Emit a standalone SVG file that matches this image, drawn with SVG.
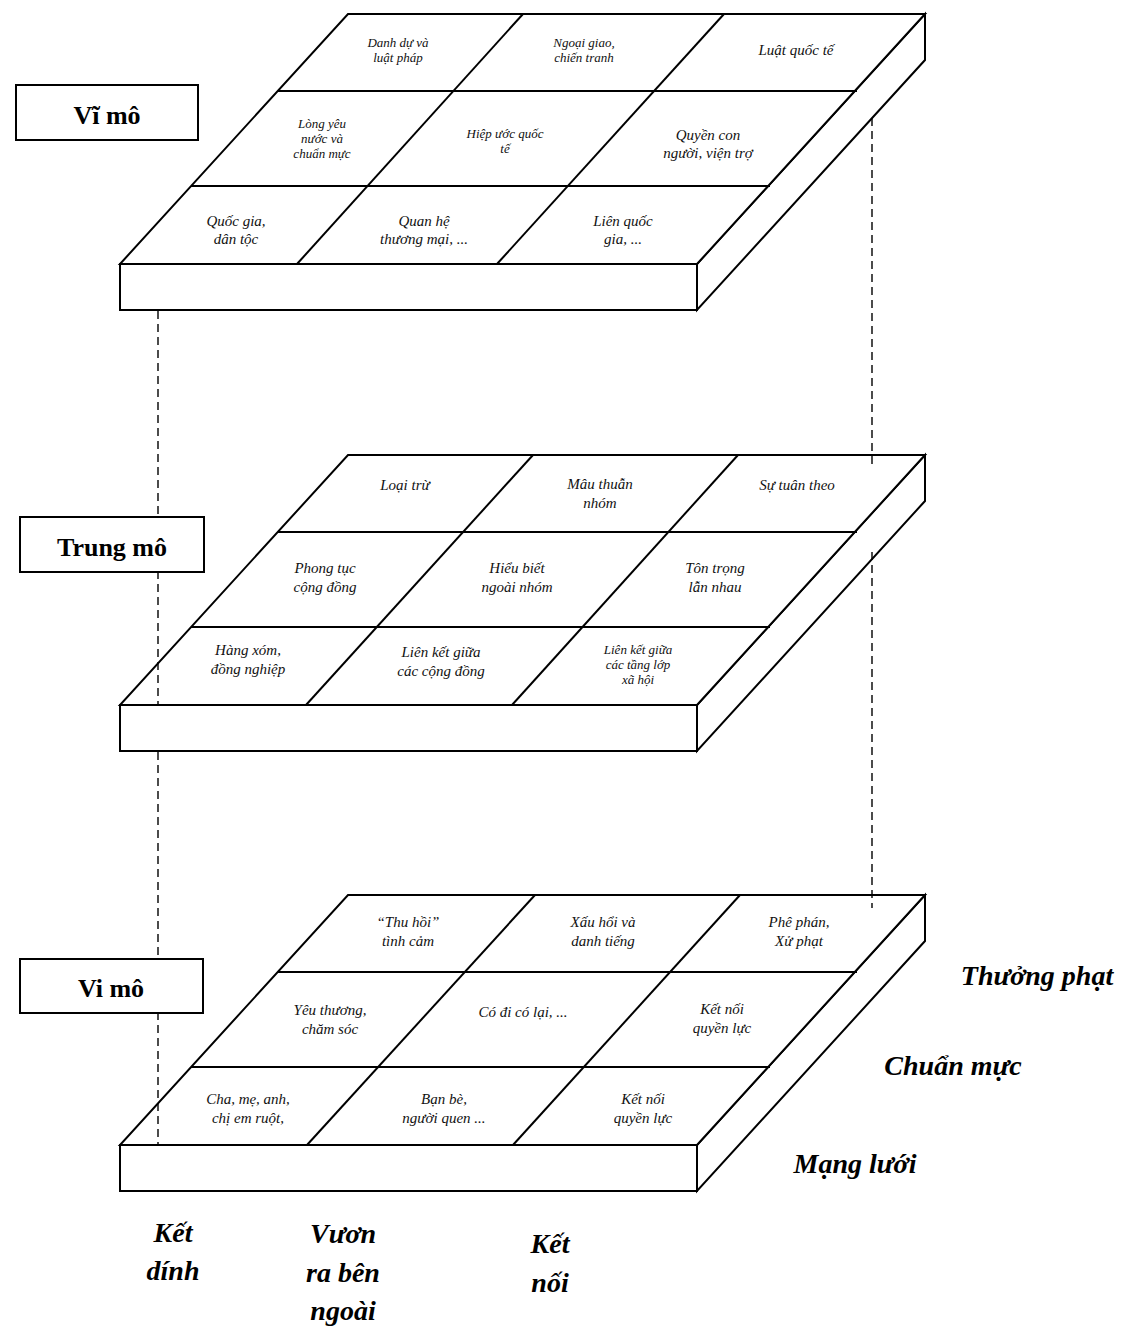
<svg xmlns="http://www.w3.org/2000/svg" width="1125" height="1332" viewBox="0 0 1125 1332">
<style>
.face{fill:#fff;stroke:#000;stroke-width:2;stroke-linejoin:miter}
.ln{fill:none;stroke:#000;stroke-width:2}
.dash{fill:none;stroke:#000;stroke-width:1.4;stroke-dasharray:8 5}
.box{fill:#fff;stroke:#000;stroke-width:2}
.lvl{font-family:"Liberation Serif",serif;font-weight:bold;font-size:26px;text-anchor:middle}
.cell{font-family:"Liberation Serif",serif;font-style:italic;font-size:15px;text-anchor:middle;fill:#111}
.sm{font-size:13px}
.axis{font-family:"Liberation Serif",serif;font-weight:bold;font-style:italic;font-size:28px;text-anchor:middle}
</style>
<rect width="1125" height="1332" fill="#fff"/>

<g id="slab-vimo-top">
<polygon class="face" points="697,264 925,14 925,60 697,310"/>
<rect class="face" x="120" y="264" width="577" height="46"/>
<polygon class="face" points="348,14 925,14 697,264 120,264"/>
<line class="ln" x1="278" y1="91" x2="857" y2="91"/>
<line class="ln" x1="191" y1="186" x2="770" y2="186"/>
<line class="ln" x1="523" y1="14" x2="297" y2="264"/>
<line class="ln" x1="724" y1="14" x2="497" y2="264"/>
<g id="c-danh-du"><text class="cell sm" x="398" y="47">Danh dự và</text><text class="cell sm" x="398" y="62">luật pháp</text></g>
<g id="c-ngoai-giao"><text class="cell sm" x="584" y="47">Ngoại giao,</text><text class="cell sm" x="584" y="62">chiến tranh</text></g>
<g id="c-luat-quoc-te"><text class="cell" x="796" y="55">Luật quốc tế</text></g>
<g id="c-long-yeu"><text class="cell sm" x="322" y="128">Lòng yêu</text><text class="cell sm" x="322" y="143">nước và</text><text class="cell sm" x="322" y="158">chuẩn mực</text></g>
<g id="c-hiep-uoc"><text class="cell sm" x="505" y="138">Hiệp ước quốc</text><text class="cell sm" x="505" y="153">tế</text></g>
<g id="c-quyen-con"><text class="cell" x="708" y="140">Quyền con</text><text class="cell" x="708" y="158">người, viện trợ</text></g>
<g id="c-quoc-gia"><text class="cell" x="236" y="226">Quốc gia,</text><text class="cell" x="236" y="244">dân tộc</text></g>
<g id="c-quan-he"><text class="cell" x="424" y="226">Quan hệ</text><text class="cell" x="424" y="244">thương mại, ...</text></g>
<g id="c-lien-quoc-gia"><text class="cell" x="623" y="226">Liên quốc</text><text class="cell" x="623" y="244">gia, ...</text></g>
</g>

<g id="slab-trung-mo">
<polygon class="face" points="697,705 925,455 925,501 697,751"/>
<rect class="face" x="120" y="705" width="577" height="46"/>
<polygon class="face" points="348,455 925,455 697,705 120,705"/>
<line class="ln" x1="278" y1="532" x2="857" y2="532"/>
<line class="ln" x1="191" y1="627" x2="770" y2="627"/>
<line class="ln" x1="533" y1="455" x2="306" y2="705"/>
<line class="ln" x1="738" y1="455" x2="512" y2="705"/>
<g id="c-loai-tru"><text class="cell" x="405" y="490">Loại trừ</text></g>
<g id="c-mau-thuan"><text class="cell" x="600" y="489">Mâu thuẫn</text><text class="cell" x="600" y="508">nhóm</text></g>
<g id="c-su-tuan-theo"><text class="cell" x="797" y="490">Sự tuân theo</text></g>
<g id="c-phong-tuc"><text class="cell" x="325" y="573">Phong tục</text><text class="cell" x="325" y="592">cộng đồng</text></g>
<g id="c-hieu-biet"><text class="cell" x="517" y="573">Hiểu biết</text><text class="cell" x="517" y="592">ngoài nhóm</text></g>
<g id="c-ton-trong"><text class="cell" x="715" y="573">Tôn trọng</text><text class="cell" x="715" y="592">lẫn nhau</text></g>
<g id="c-hang-xom"><text class="cell" x="248" y="655">Hàng xóm,</text><text class="cell" x="248" y="674">đồng nghiệp</text></g>
<g id="c-lien-ket-cong-dong"><text class="cell" x="441" y="657">Liên kết giữa</text><text class="cell" x="441" y="676">các cộng đồng</text></g>
<g id="c-lien-ket-tang-lop"><text class="cell sm" x="638" y="654">Liên kết giữa</text><text class="cell sm" x="638" y="669">các tầng lớp</text><text class="cell sm" x="638" y="684">xã hội</text></g>
</g>

<g id="slab-vi-mo">
<polygon class="face" points="697,1145 925,895 925,941 697,1191"/>
<rect class="face" x="120" y="1145" width="577" height="46"/>
<polygon class="face" points="348,895 925,895 697,1145 120,1145"/>
<line class="ln" x1="278" y1="972" x2="857" y2="972"/>
<line class="ln" x1="191" y1="1067" x2="770" y2="1067"/>
<line class="ln" x1="535" y1="895" x2="307" y2="1145"/>
<line class="ln" x1="740" y1="895" x2="513" y2="1145"/>
<g id="c-thu-hoi"><text class="cell" x="408" y="927">“Thu hồi”</text><text class="cell" x="408" y="946">tình cảm</text></g>
<g id="c-xau-hoi"><text class="cell" x="603" y="927">Xấu hổi và</text><text class="cell" x="603" y="946">danh tiếng</text></g>
<g id="c-phe-phan"><text class="cell" x="799" y="927">Phê phán,</text><text class="cell" x="799" y="946">Xử phạt</text></g>
<g id="c-yeu-thuong"><text class="cell" x="330" y="1015">Yêu thương,</text><text class="cell" x="330" y="1034">chăm sóc</text></g>
<g id="c-co-di-co-lai"><text class="cell" x="523" y="1017">Có đi có lại, ...</text></g>
<g id="c-ket-noi-1"><text class="cell" x="722" y="1014">Kết nối</text><text class="cell" x="722" y="1033">quyền lực</text></g>
<g id="c-cha-me"><text class="cell" x="248" y="1104">Cha, mẹ, anh,</text><text class="cell" x="248" y="1123">chị em ruột,</text></g>
<g id="c-ban-be"><text class="cell" x="444" y="1104">Bạn bè,</text><text class="cell" x="444" y="1123">người quen ...</text></g>
<g id="c-ket-noi-2"><text class="cell" x="643" y="1104">Kết nối</text><text class="cell" x="643" y="1123">quyền lực</text></g>
</g>

<g id="connectors">
<line class="dash" x1="158" y1="311" x2="158" y2="704"/>
<line class="dash" x1="158" y1="752" x2="158" y2="1144"/>
<line class="dash" x1="872" y1="118" x2="872" y2="467"/>
<line class="dash" x1="872" y1="552" x2="872" y2="908"/>
</g>

<g id="label-vi-mo-macro"><rect class="box" x="16" y="85" width="182" height="55"/><text class="lvl" x="107" y="124">Vĩ mô</text></g>
<g id="label-trung-mo"><rect class="box" x="20" y="517" width="184" height="55"/><text class="lvl" x="112" y="556">Trung mô</text></g>
<g id="label-vi-mo-micro"><rect class="box" x="20" y="959" width="183" height="54"/><text class="lvl" x="111" y="997">Vi mô</text></g>

<g id="axis-labels">
<text class="axis" x="1037" y="985">Thưởng phạt</text>
<text class="axis" x="953" y="1075">Chuẩn mực</text>
<text class="axis" x="855" y="1173">Mạng lưới</text>
<text class="axis" x="173" y="1242">Kết</text>
<text class="axis" x="173" y="1280">dính</text>
<text class="axis" x="343" y="1243">Vươn</text>
<text class="axis" x="343" y="1282">ra bên</text>
<text class="axis" x="343" y="1320">ngoài</text>
<text class="axis" x="550" y="1253">Kết</text>
<text class="axis" x="550" y="1292">nối</text>
</g>
</svg>
